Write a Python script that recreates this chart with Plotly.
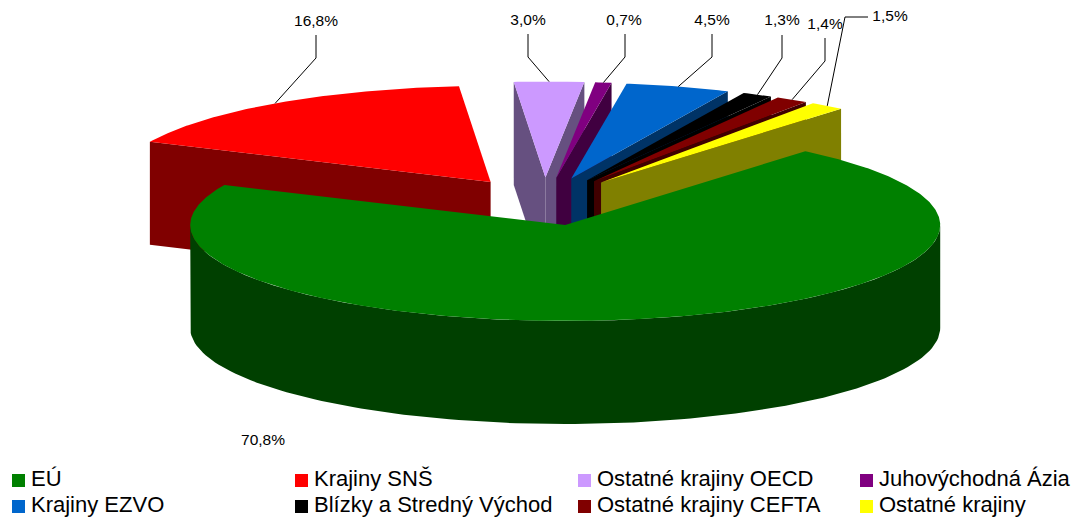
import math
import plotly.graph_objects as go

# ---- data ----
categories = ["EÚ", "Krajiny SNŠ", "Ostatné krajiny OECD", "Juhovýchodná Ázia",
              "Krajiny EZVO", "Blízky a Stredný Východ", "Ostatné krajiny CEFTA", "Ostatné krajiny"]
values = [70.8, 16.8, 3.0, 0.7, 4.5, 1.3, 1.4, 1.5]
value_labels = ["70,8%", "16,8%", "3,0%", "0,7%", "4,5%", "1,3%", "1,4%", "1,5%"]
top_colors = ["#008000", "#ff0000", "#cc99ff", "#800080", "#0066cc", "#000000", "#800000", "#ffff00"]
side_colors = ["#004000", "#800000", "#665080", "#400040", "#003366", "#000000", "#400000", "#808000"]

# ---- pie projection (pixels) ----
CX, CY, RX, RY = 544.5, 201.6, 375.0, 96.0
DEPTH, EXPLODE, FIRST_ANGLE = 103.0, 0.25, 39.8

# label centres and leader elbows, in slice order
label_pos = [(263, 441), (316, 22), (528, 21), (624, 21), (712, 21), (782, 21), (825, 25), (890, 17)]
leader_via = [None, [(316, 35), (316, 58)], [(528, 34), (528, 57)], [(625, 34), (625, 57)],
              [(712, 34), (712, 57)], [(782, 35), (782, 58)], [(825, 38), (825, 61)],
              [(868, 17), (845, 17)]]
legend_cols = [18.5, 301.5, 584.5, 866.5]
legend_rows = [480.5, 506.5]
LEGEND_TEXT_GAP = 12.5


def rim(ax, ay, deg):
    r = math.radians(deg)
    return ax + RX * math.sin(r), ay - RY * math.cos(r)


def poly(points, color):
    return go.Scatter(x=[p[0] for p in points], y=[p[1] for p in points], mode="lines",
                      fill="toself", fillcolor=color, line=dict(width=0, color=color),
                      hoverinfo="skip", showlegend=False)


slices = []
angle = FIRST_ANGLE
total = sum(values)
for i, v in enumerate(values):
    sweep = v / total * 360
    a0, a1 = angle, angle + sweep
    mid = (a0 + a1) / 2
    m = math.radians(mid)
    ax = CX + EXPLODE * RX * math.sin(m)
    ay = CY - EXPLODE * RY * math.cos(m)
    slices.append(dict(i=i, a0=a0, a1=a1, mid=mid, ax=ax, ay=ay))
    angle = a1

fig = go.Figure()

# back slices first, first slice (front) last
for s in slices[1:] + slices[:1]:
    i, a0, a1, ax, ay = s["i"], s["a0"], s["a1"], s["ax"], s["ay"]
    side, top = side_colors[i], top_colors[i]
    # radial walls that face the viewer
    for deg, visible in ((a0, math.sin(math.radians(a0)) < 0), (a1, math.sin(math.radians(a1)) > 0)):
        if visible:
            x, y = rim(ax, ay, deg)
            fig.add_trace(poly([(ax, ay), (x, y), (x, y + DEPTH), (ax, ay + DEPTH)], side))
    # outer wall (front half of the rim)
    lo, hi = max(a0, 90), min(a1, 270)
    if hi > lo:
        n = 120
        arc = [rim(ax, ay, lo + (hi - lo) * k / n) for k in range(n + 1)]
        fig.add_trace(poly(arc + [(x, y + DEPTH) for x, y in reversed(arc)], side))
    # top face
    n = max(4, int((a1 - a0) * 2))
    top_pts = [(ax, ay)] + [rim(ax, ay, a0 + (a1 - a0) * k / n) for k in range(n + 1)]
    fig.add_trace(poly(top_pts, top))

# leader lines
for s in slices:
    via = leader_via[s["i"]]
    if via:
        end = rim(s["ax"], s["ay"], s["mid"])
        pts = via + [end]
        fig.add_trace(go.Scatter(x=[p[0] for p in pts], y=[p[1] for p in pts], mode="lines",
                                 line=dict(color="#000000", width=1), hoverinfo="skip", showlegend=False))

# value labels
fig.add_trace(go.Scatter(x=[p[0] for p in label_pos], y=[p[1] for p in label_pos], mode="text",
                         text=value_labels, textposition="middle center",
                         textfont=dict(family="Liberation Sans", size=15.5, color="#000000"),
                         hoverinfo="skip", showlegend=False))

# legend
lx = [legend_cols[i % 4] for i in range(len(categories))]
ly = [legend_rows[i // 4] for i in range(len(categories))]
fig.add_trace(go.Scatter(x=lx, y=ly, mode="markers",
                         marker=dict(symbol="square", size=13, color=top_colors, line=dict(width=0)),
                         hoverinfo="skip", showlegend=False))
fig.add_trace(go.Scatter(x=[v + LEGEND_TEXT_GAP for v in lx], y=ly, mode="text", text=categories,
                         textposition="middle right",
                         textfont=dict(family="Liberation Sans", size=22, color="#000000"),
                         hoverinfo="skip", showlegend=False))

fig.update_layout(
    width=1076, height=522, margin=dict(l=0, r=0, t=0, b=0),
    paper_bgcolor="#ffffff", plot_bgcolor="#ffffff", showlegend=False,
    xaxis=dict(visible=False, range=[0, 1076], fixedrange=True),
    yaxis=dict(visible=False, range=[522, 0], fixedrange=True),
)
fig.write_html("out.html", config=dict(displayModeBar=False),
               post_script="document.body.style.margin='0';document.documentElement.style.overflow='hidden';")
